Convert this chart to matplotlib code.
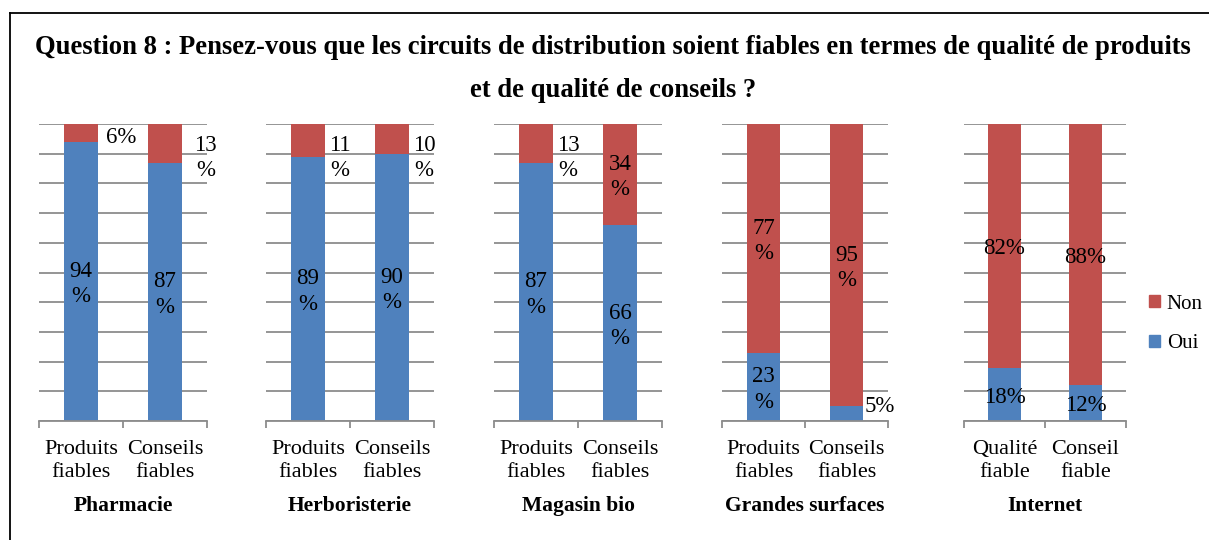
import matplotlib
matplotlib.use("Agg")
import matplotlib.pyplot as plt
from matplotlib.patches import Patch
from matplotlib.lines import Line2D

plt.rcParams['font.family'] = ['Liberation Serif', 'DejaVu Serif']

title = ("Question 8 : Pensez-vous que les circuits de distribution soient fiables "
         "en termes de qualité de produits\net de qualité de conseils ?")

groups = ["Pharmacie", "Herboristerie", "Magasin bio", "Grandes surfaces", "Internet"]
categories = [
    ["Produits\nfiables", "Conseils\nfiables"],
    ["Produits\nfiables", "Conseils\nfiables"],
    ["Produits\nfiables", "Conseils\nfiables"],
    ["Produits\nfiables", "Conseils\nfiables"],
    ["Qualité\nfiable", "Conseil\nfiable"],
]
oui = [[94, 87], [89, 90], [87, 66], [23, 5], [18, 12]]
non = [[6, 13], [11, 10], [13, 34], [77, 95], [82, 88]]

BLUE = "#4F81BD"
RED = "#C0504D"
GRID = "#8C8C8C"
FS_TICK = 16
FS_LABEL = 16.5
FS_GROUP = 15.5
FS_LEGEND = 15
FS_TITLE = 19.2

W, H = 1209, 540
# panel extents in pixels (left, right), plot area top/bottom
panel_px = [(39, 207), (266, 434), (494, 662), (722, 888), (964, 1126)]
top_px, bottom_px = 124, 421
# Excel wraps the labels in the narrow panels, not in the last one
wrap_labels = [True, True, True, True, False]
# horizontal shift of the labels put beside a bar (category units)
side_dx = [0.48, 0.38, 0.38, 0.40, 0.40]

fig = plt.figure(figsize=(W / 100, H / 100), dpi=100)
fig.patch.set_facecolor("white")


def label_text(v, wrap):
    if wrap and v >= 10:
        return f"{v}\n%"
    return f"{v}%"


for i, group in enumerate(groups):
    l, r = panel_px[i]
    ax = fig.add_axes([l / W, 1 - bottom_px / H, (r - l) / W, (bottom_px - top_px) / H])
    x = [0, 1]
    ax.bar(x, oui[i], width=0.4, color=BLUE, zorder=2)
    ax.bar(x, non[i], width=0.4, bottom=oui[i], color=RED, zorder=2)

    ax.set_xlim(-0.5, 1.5)
    ax.set_ylim(0, 100)
    ax.set_yticks(range(0, 101, 10))
    ax.yaxis.grid(True, color=GRID, lw=1.3)
    ax.set_axisbelow(True)
    ax.tick_params(axis='y', length=0, labelleft=False)
    for s in ["left", "right", "top"]:
        ax.spines[s].set_visible(False)
    ax.spines["bottom"].set_color(GRID)
    ax.spines["bottom"].set_linewidth(1.3)

    ax.set_xticks(x)
    ax.set_xticklabels(categories[i], fontsize=FS_TICK, linespacing=1.23)
    ax.tick_params(axis='x', which='major', length=0, pad=14)
    ax.set_xticks([-0.5, 0.5, 1.5], minor=True)
    ax.tick_params(axis='x', which='minor', length=5, width=1.3, color=GRID)

    ax.text(0.5, -0.285, group, transform=ax.transAxes, ha='center', va='center',
            fontsize=FS_GROUP, fontweight='bold')

    wrap = wrap_labels[i]
    for j in x:
        segs = [(0, oui[i][j]), (oui[i][j], non[i][j])]
        for k, (b, v) in enumerate(segs):
            txt = label_text(v, wrap)
            if wrap and v < 15:
                # small segment: label sits beside the bar
                xl = j + side_dx[i]
                if "\n" in txt:
                    ax.annotate(txt, (xl, 100), xytext=(0, -8),
                                textcoords='offset points', ha='center', va='top',
                                fontsize=FS_LABEL, linespacing=1.27)
                else:
                    dy = -3 if k == 1 else 5
                    ax.annotate(txt, (xl, b + v / 2), xytext=(0, dy),
                                textcoords='offset points', ha='center', va='center',
                                fontsize=FS_LABEL)
            else:
                ax.annotate(txt, (j, b + v / 2), xytext=(0, -2),
                            textcoords='offset points', ha='center', va='center',
                            fontsize=FS_LABEL, linespacing=1.27)

fig.text(613 / W, 1 - 69 / H, title, ha='center', va='center', fontsize=FS_TITLE,
         fontweight='bold', linespacing=1.93)

handles = [Patch(color=RED, label="Non"), Patch(color=BLUE, label="Oui")]
fig.legend(handles=handles, loc='center left', bbox_to_anchor=(1149 / W, 1 - 324 / H),
           frameon=False, fontsize=FS_LEGEND, handlelength=0.55, handleheight=0.55,
           handletextpad=0.3, labelspacing=1.0, borderpad=0, borderaxespad=0)

# outer frame (left and top edges only are visible in the crop)
fig.add_artist(Line2D([9.5 / W, 9.5 / W], [0, 1 - 12.5 / H], transform=fig.transFigure,
                      color='black', lw=1.3))
fig.add_artist(Line2D([9.5 / W, 1], [1 - 12.5 / H, 1 - 12.5 / H], transform=fig.transFigure,
                      color='black', lw=1.3))

fig.savefig("out.png", dpi=100)
